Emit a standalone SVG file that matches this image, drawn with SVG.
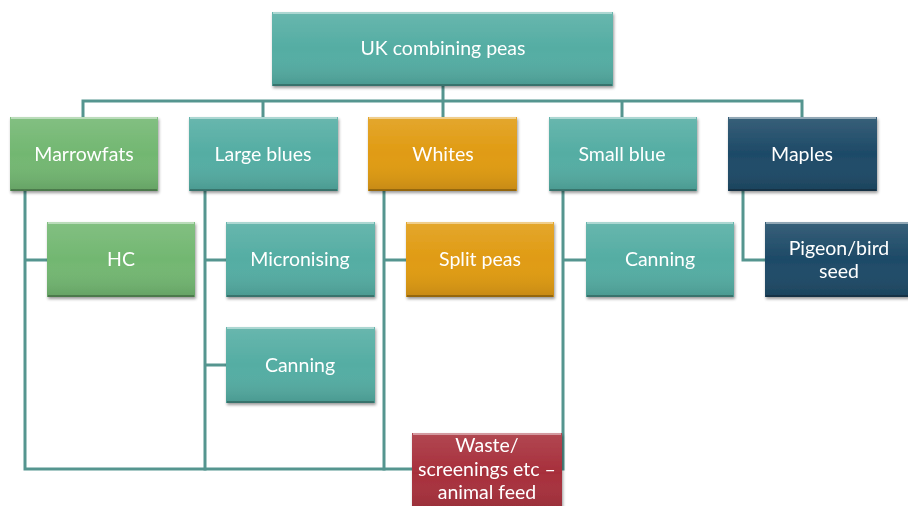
<svg xmlns="http://www.w3.org/2000/svg" width="908" height="506" viewBox="0 0 908 506">
  <style>
    .lnk { fill: none; stroke: #55958f; stroke-width: 3; stroke-linecap: square; }
    .box { filter: url(#shadow); }
    .teal { fill: #54ada3; }
    .green { fill: #72b771; }
    .orange { fill: #e09b12; }
    .navy { fill: #1d4a67; }
    .red { fill: #a72f3b; }
    .shade { fill: url(#bevel); }
    .hi { stroke: #ffffff; stroke-opacity: 0.45; stroke-width: 2; }
    .lo { stroke: #000000; stroke-opacity: 0.25; stroke-width: 2; }
    text { font-family: Lato, "Open Sans", "Liberation Sans", sans-serif; font-size: 19.5px; fill: #ffffff; text-anchor: middle; }
  </style>
  <defs>
    <linearGradient id="bevel" x1="0" y1="0" x2="0" y2="1">
      <stop offset="0" stop-color="#ffffff" stop-opacity="0.12"/>
      <stop offset="0.5" stop-color="#ffffff" stop-opacity="0"/>
      <stop offset="1" stop-color="#000000" stop-opacity="0.12"/>
    </linearGradient>
    <filter id="shadow" x="-10%" y="-10%" width="120%" height="130%">
      <feDropShadow dx="1" dy="2" stdDeviation="1.5" flood-color="#000000" flood-opacity="0.4"/>
    </filter>
  </defs>

  <!-- connectors -->
  <g id="connectors">
    <path class="lnk" d="M443 86 V101 M83 117 V101 H802 V117 M263 101 V117 M443 101 V117 M622 101 V117"/>
    <path class="lnk" d="M25 191 V469 H412 M25 260 H47"/>
    <path class="lnk" d="M205 191 V469 M205 260 H226 M205 365 H226"/>
    <path class="lnk" d="M384 191 V469 M384 260 H406"/>
    <path class="lnk" d="M563 191 V469 M563 260 H586"/>
    <path class="lnk" d="M743 191 V260 H765"/>
  </g>

  <!-- root -->
  <g id="root" class="box">
    <rect class="teal" x="272" y="12" width="341" height="74"/>
    <rect class="shade" x="272" y="12" width="341" height="74"/>
    <path class="hi" d="M273 13 H612"/><path class="lo" d="M273 85 H612"/>
    <text x="443" y="55">UK combining peas</text>
  </g>

  <!-- first level -->
  <g id="marrowfats" class="box">
    <rect class="green" x="10" y="117" width="148" height="74"/>
    <rect class="shade" x="10" y="117" width="148" height="74"/>
    <path class="hi" d="M11 118 H157"/><path class="lo" d="M11 190 H157"/>
    <text x="84" y="161">Marrowfats</text>
  </g>
  <g id="large-blues" class="box">
    <rect class="teal" x="189" y="117" width="149" height="74"/>
    <rect class="shade" x="189" y="117" width="149" height="74"/>
    <path class="hi" d="M190 118 H337"/><path class="lo" d="M190 190 H337"/>
    <text x="263" y="161">Large blues</text>
  </g>
  <g id="whites" class="box">
    <rect class="orange" x="368" y="117" width="149" height="74"/>
    <rect class="shade" x="368" y="117" width="149" height="74"/>
    <path class="hi" d="M369 118 H516"/><path class="lo" d="M369 190 H516"/>
    <text x="443" y="161">Whites</text>
  </g>
  <g id="small-blue" class="box">
    <rect class="teal" x="549" y="117" width="148" height="74"/>
    <rect class="shade" x="549" y="117" width="148" height="74"/>
    <path class="hi" d="M550 118 H696"/><path class="lo" d="M550 190 H696"/>
    <text x="622" y="161">Small blue</text>
  </g>
  <g id="maples" class="box">
    <rect class="navy" x="728" y="117" width="149" height="74"/>
    <rect class="shade" x="728" y="117" width="149" height="74"/>
    <path class="hi" d="M729 118 H876"/><path class="lo" d="M729 190 H876"/>
    <text x="802" y="161">Maples</text>
  </g>

  <!-- second level -->
  <g id="hc" class="box">
    <rect class="green" x="47" y="222" width="148" height="75"/>
    <rect class="shade" x="47" y="222" width="148" height="75"/>
    <path class="hi" d="M48 223 H194"/><path class="lo" d="M48 296 H194"/>
    <text x="121" y="266">HC</text>
  </g>
  <g id="micronising" class="box">
    <rect class="teal" x="226" y="222" width="149" height="75"/>
    <rect class="shade" x="226" y="222" width="149" height="75"/>
    <path class="hi" d="M227 223 H374"/><path class="lo" d="M227 296 H374"/>
    <text x="300" y="266">Micronising</text>
  </g>
  <g id="split-peas" class="box">
    <rect class="orange" x="406" y="222" width="148" height="75"/>
    <rect class="shade" x="406" y="222" width="148" height="75"/>
    <path class="hi" d="M407 223 H553"/><path class="lo" d="M407 296 H553"/>
    <text x="480" y="266">Split peas</text>
  </g>
  <g id="canning-small" class="box">
    <rect class="teal" x="586" y="222" width="148" height="75"/>
    <rect class="shade" x="586" y="222" width="148" height="75"/>
    <path class="hi" d="M587 223 H733"/><path class="lo" d="M587 296 H733"/>
    <text x="660" y="266">Canning</text>
  </g>
  <g id="pigeon-seed" class="box">
    <rect class="navy" x="765" y="222" width="149" height="75"/>
    <rect class="shade" x="765" y="222" width="149" height="75"/>
    <path class="hi" d="M766 223 H913"/><path class="lo" d="M766 296 H913"/>
    <text x="839" y="255">Pigeon/bird</text>
    <text x="839" y="278">seed</text>
  </g>
  <g id="canning-large" class="box">
    <rect class="teal" x="226" y="327" width="149" height="76"/>
    <rect class="shade" x="226" y="327" width="149" height="76"/>
    <path class="hi" d="M227 328 H374"/><path class="lo" d="M227 402 H374"/>
    <text x="300" y="372">Canning</text>
  </g>
  <g id="waste" class="box">
    <rect class="red" x="412" y="433" width="150" height="80"/>
    <rect class="shade" x="412" y="433" width="150" height="80"/>
    <path class="hi" d="M413 434 H561"/>
    <text x="487" y="452">Waste/</text>
    <text x="487" y="476">screenings etc –</text>
    <text x="487" y="499">animal feed</text>
  </g>
</svg>
